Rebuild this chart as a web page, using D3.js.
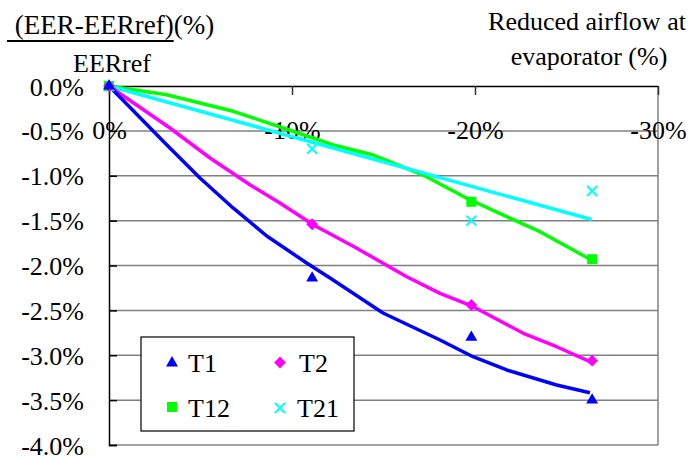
<!DOCTYPE html>
<html><head><meta charset="utf-8">
<script src="https://cdn.jsdelivr.net/npm/d3@7"></script>
<style>
html,body{margin:0;padding:0;background:#fff;}
svg{display:block;}
</style></head>
<body>
<svg id="chart" width="692" height="459"></svg>
<script>
// ---- data (percent) ----
const xPoints   = [0, -11.1, -19.8, -26.4];
const t1Values  = [0, -2.14, -2.80, -3.50];
const t2Values  = [0, -1.54, -2.44, -3.06];
const t12X      = [0, -19.8, -26.4];
const t12Values = [0, -1.29, -1.93];
const t21Values = [0, -0.70, -1.50, -1.17];

// trend lines
const t1TrendX  = [0, -3.15, -4.97, -6.78, -8.62, -10.8, -12.08, -14.97, -18.09, -19.89, -21.73, -24.46, -26.28];
const t1TrendY  = [0, -0.654, -1.025, -1.359, -1.671, -1.972, -2.139, -2.529, -2.83, -3.016, -3.164, -3.331, -3.417];
const t2TrendX  = [0, -3.33, -5.52, -7.7, -9.34, -11.16, -13.54, -16.27, -18.09, -19.91, -22.64, -24.46, -26.28];
const t2TrendY  = [0, -0.468, -0.802, -1.1, -1.304, -1.546, -1.808, -2.125, -2.31, -2.459, -2.755, -2.905, -3.072];
const t12TrendX = [0, -3.15, -6.79, -9.52, -12.26, -14.44, -17.17, -19.55, -21.73, -23.55, -25.37, -26.28];
const t12TrendY = [0, -0.097, -0.282, -0.468, -0.657, -0.769, -0.992, -1.251, -1.456, -1.623, -1.827, -1.931];
const t21TrendX = [0, -26.37];
const t21TrendY = [0, -1.488];

const xTicks = [0, -10, -20, -30];
const xTickLabels = ["0%", "-10%", "-20%", "-30%"];
const yTicks = [0, -0.5, -1, -1.5, -2, -2.5, -3, -3.5, -4];
const yTickLabels = ["0.0%", "-0.5%", "-1.0%", "-1.5%", "-2.0%", "-2.5%", "-3.0%", "-3.5%", "-4.0%"];
const seriesNames = ["T1", "T2", "T12", "T21"];
const colors = {T1: "#0000ff", T2: "#ff00ff", T12: "#00ff00", T21: "#00ffff"};

// ---- layout ----
const FONT = "Liberation Serif";
const svg = d3.select("#chart");
const L = 109, R = 658, T = 86, B = 445;
const x = d3.scaleLinear().domain([0, -30]).range([L, R]);
const y = d3.scaleLinear().domain([0, -4]).range([T, B]);
const FS = 26;

// gridlines
svg.append("g").selectAll("line").data(yTicks.slice(1)).join("line")
  .attr("x1", L).attr("x2", R).attr("y1", d => y(d)).attr("y2", d => y(d))
  .attr("stroke", "#808080").attr("stroke-width", 1.5);
// right border
svg.append("line").attr("x1", R).attr("x2", R).attr("y1", T).attr("y2", B)
  .attr("stroke", "#808080").attr("stroke-width", 1.5);

// y axis
const yAxis = d3.axisRight(y).tickValues(yTicks).tickSize(8)
  .tickFormat((d, i) => yTickLabels[i]);
const gy = svg.append("g").attr("transform", `translate(${L},0)`).call(yAxis);
gy.attr("font-family", null);
gy.select(".domain").attr("stroke", "#000").attr("stroke-width", 1.5);
gy.selectAll(".tick line").attr("stroke", "#000").attr("stroke-width", 1.5);
gy.selectAll(".tick text").attr("x", -25).attr("dy", 0).attr("y", 9)
  .attr("text-anchor", "end").attr("font-size", FS).attr("fill", "#000")
  .style("font-family", FONT);

// x axis at top, ticks inward
const xAxis = d3.axisBottom(x).tickValues(xTicks).tickSizeInner(9).tickSizeOuter(0)
  .tickFormat((d, i) => xTickLabels[i]);
const gx = svg.append("g").attr("transform", `translate(0,${T})`).call(xAxis);
gx.attr("font-family", null);
gx.select(".domain").attr("stroke", "#000").attr("stroke-width", 1.5);
gx.selectAll(".tick line").attr("stroke", "#333").attr("stroke-width", 1.5);
gx.selectAll(".tick text").attr("y", 53).attr("dy", 0)
  .attr("font-size", FS).attr("fill", "#000")
  .style("font-family", FONT);

// trend lines
const line = d3.line().x(d => x(d[0])).y(d => y(d[1]));
const trends = [
  ["T12", t12TrendX, t12TrendY],
  ["T21", t21TrendX, t21TrendY],
  ["T2", t2TrendX, t2TrendY],
  ["T1", t1TrendX, t1TrendY]
];
trends.forEach(([name, xs, ys]) => {
  svg.append("path").datum(xs.map((v, i) => [v, ys[i]]))
    .attr("d", line).attr("fill", "none")
    .attr("stroke", colors[name]).attr("stroke-width", 3.5)
    .attr("stroke-linejoin", "round");
});

// markers
function drawMarker(g, name, cx, cy) {
  if (name === "T1") {
    g.append("path").attr("d", d3.symbol(d3.symbolTriangle, 62)())
      .attr("transform", `translate(${cx},${cy})`).attr("fill", colors.T1);
  } else if (name === "T2") {
    g.append("path").attr("d", d3.symbol(d3.symbolSquare, 70)())
      .attr("transform", `translate(${cx},${cy}) rotate(45)`).attr("fill", colors.T2);
  } else if (name === "T12") {
    g.append("path").attr("d", d3.symbol(d3.symbolSquare, 100)())
      .attr("transform", `translate(${cx},${cy})`).attr("fill", colors.T12);
  } else {
    const p = d3.path(); const r = 5;
    p.moveTo(-r, -r); p.lineTo(r, r); p.moveTo(r, -r); p.lineTo(-r, r);
    g.append("path").attr("d", p.toString())
      .attr("transform", `translate(${cx},${cy})`)
      .attr("stroke", colors.T21).attr("stroke-width", 2).attr("fill", "none");
  }
}
const mg = svg.append("g");
const pointSets = [
  ["T21", xPoints, t21Values],
  ["T12", t12X, t12Values],
  ["T2", xPoints, t2Values],
  ["T1", xPoints, t1Values]
];
pointSets.forEach(([name, xs, ys]) => {
  xs.forEach((v, i) => drawMarker(mg, name, x(v), y(ys[i])));
});

// legend
const lg = svg.append("g");
lg.append("rect").attr("x", 141).attr("y", 337).attr("width", 213).attr("height", 94)
  .attr("fill", "#fff").attr("stroke", "#000").attr("stroke-width", 1.2);
const legPos = [[172, 363, 188, 372], [280, 362.5, 299, 372], [172, 407, 188, 416.5], [280, 408, 297, 416.5]];
seriesNames.forEach((name, i) => {
  const [mx, my, tx, ty] = legPos[i];
  drawMarker(lg, name, mx, my);
  lg.append("text").attr("x", tx).attr("y", ty).attr("font-size", FS)
    .style("font-family", FONT).text(name);
});

// titles
const yt = svg.append("text").attr("x", 8).attr("y", 34).attr("font-size", 27)
  .style("font-family", FONT).style("white-space", "pre");
const ytU = yt.append("tspan").text(" (EER-EERref)");
yt.append("tspan").text("(%)");
const ub = ytU.node().getBBox();
svg.append("line").attr("x1", 7).attr("x2", ub.x + ub.width).attr("y1", 41).attr("y2", 41)
  .attr("stroke", "#000").attr("stroke-width", 2);
svg.append("text").attr("x", 112).attr("y", 72).attr("font-size", FS)
  .style("font-family", FONT).attr("text-anchor", "middle").text("EERref");

svg.append("text").attr("x", 587).attr("y", 30).attr("font-size", FS)
  .style("font-family", FONT).attr("text-anchor", "middle").text("Reduced airflow at");
svg.append("text").attr("x", 589).attr("y", 65).attr("font-size", FS)
  .style("font-family", FONT).attr("text-anchor", "middle").text("evaporator (%)");
</script>
</body></html>
